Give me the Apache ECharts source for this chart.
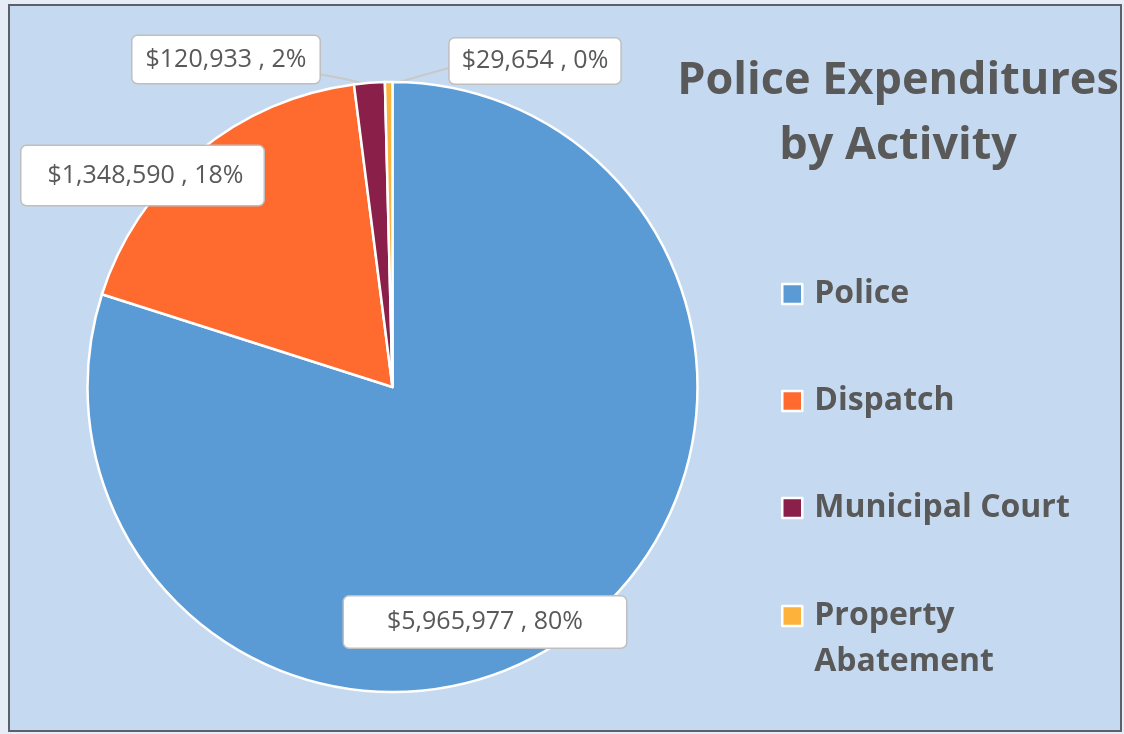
<!DOCTYPE html>
<html>
<head>
<meta charset="utf-8">
<title>Police Expenditures by Activity</title>
<script src="https://cdn.jsdelivr.net/npm/echarts@6/dist/echarts.min.js"></script>
<style>
  html, body { margin: 0; padding: 0; background: #e6edf6; }
  #chart { width: 1124px; height: 734px; }
</style>
</head>
<body>
<div id="chart"></div>
<script>
// Spending by activity (dollars)
const categories = ['Police', 'Dispatch', 'Municipal Court', 'Property Abatement'];
const amounts = [5965977, 1348590, 120933, 29654];
const sliceColors = ['#5b9bd5', '#ff6b2e', '#8a1f4a', '#fdb23b'];

const total = amounts.reduce((a, b) => a + b, 0);
const fmtMoney = v => '$' + v.toLocaleString('en-US');

const textGray = '#595959';
const uiFont = 'Open Sans';

// callout centres and leader-line anchors
const labelSpots = [
  { x: 485, y: 622 },
  { x: 142.5, y: 175.5 },
  { x: 226, y: 59.5 },
  { x: 535, y: 61 }
];
const leaderLines = {
  2: [[318, 74], [345, 79], [371, 85]],
  3: [[449, 68], [420, 76], [389, 85]]
};
const labelPadding = [
  [13, 43, 13, 43],
  [17, 20, 17, 26],
  [11, 13, 11, 13],
  [10, 12, 10, 12]
];

const pieData = categories.map((name, i) => ({
  name,
  value: amounts[i],
  itemStyle: { color: sliceColors[i] },
  label: { padding: labelPadding[i] },
  labelLine: { show: i >= 2 }
}));

const legendText = { fontFamily: uiFont, fontWeight: 'bold', fontSize: 32, lineHeight: 46, color: textGray, padding: [0, 0, 0, 7] };
const legendBase = {
  orient: 'vertical',
  left: 781,
  padding: 0,
  itemWidth: 20,
  itemHeight: 20,
  icon: 'rect',
  itemStyle: { borderColor: '#ffffff', borderWidth: 2.5 },
  textStyle: legendText
};

const chart = echarts.init(document.getElementById('chart'), null, { renderer: 'canvas' });

chart.setOption({
  backgroundColor: '#e6edf6',
  animation: false,
  graphic: [{
    type: 'rect',
    z: -10,
    silent: true,
    shape: { x: 9, y: 5, width: 1112, height: 726 },
    style: { fill: '#c5daf0', stroke: '#5b6069', lineWidth: 2 }
  }],
  title: {
    text: 'Police Expenditures\nby Activity',
    left: 893,
    top: 44,
    textAlign: 'center',
    textStyle: {
      fontFamily: uiFont,
      fontWeight: 'bold',
      fontSize: 45,
      lineHeight: 65,
      color: textGray
    }
  },
  legend: [
    Object.assign({}, legendBase, { top: 271, itemGap: 61, data: categories.slice(0, 3) }),
    // two-line entry: a blank first line keeps the swatch beside "Property"
    Object.assign({}, legendBase, {
      top: 547,
      data: categories.slice(3),
      formatter: name => '\n' + name.replace(' ', '\n')
    })
  ],
  series: [{
    type: 'pie',
    center: [392.5, 387],
    radius: 305,
    startAngle: 90,
    clockwise: true,
    avoidLabelOverlap: false,
    itemStyle: { borderColor: '#ffffff', borderWidth: 2.5 },
    label: {
      show: true,
      position: 'outside',
      formatter: p => fmtMoney(p.value) + ' , ' + Math.round(p.value / total * 100) + '%',
      fontFamily: uiFont,
      fontSize: 25,
      color: textGray,
      backgroundColor: '#ffffff',
      borderColor: '#bfbfbf',
      borderWidth: 1.5,
      borderRadius: 5
    },
    labelLine: {
      lineStyle: { color: '#c8c8c8', width: 2 }
    },
    labelLayout: p => {
      const spot = labelSpots[p.dataIndex];
      const out = { x: spot.x, y: spot.y, align: 'center', verticalAlign: 'middle' };
      if (leaderLines[p.dataIndex]) out.labelLinePoints = leaderLines[p.dataIndex];
      return out;
    },
    emphasis: { disabled: true },
    data: pieData
  }]
});
</script>
</body>
</html>
